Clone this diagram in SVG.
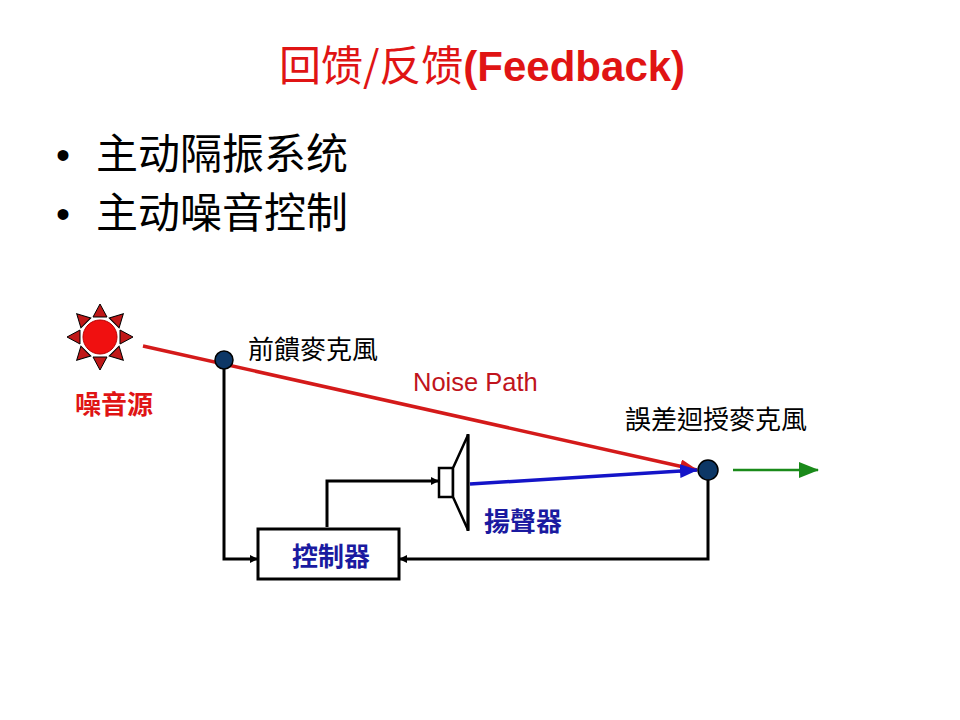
<svg xmlns="http://www.w3.org/2000/svg" width="960" height="720" viewBox="0 0 960 720">
<style>
.cjk{font-family:"Noto Sans CJK SC","Noto Sans CJK TC",sans-serif}
.lbl{font-family:"Noto Sans CJK TC","Noto Sans CJK SC",sans-serif;font-size:26px}
.wire{fill:none;stroke:#000;stroke-width:3}
.dot{fill:#0d3766;stroke:#000;stroke-width:1.5}
</style>
<defs>
<marker id="ab" markerWidth="8" markerHeight="8" refX="7" refY="4" orient="auto" markerUnits="userSpaceOnUse"><path d="M0,0 L8,4 L0,8 Z" fill="#000"/></marker>
<marker id="ar" markerWidth="18" markerHeight="14" refX="17" refY="7" orient="auto" markerUnits="userSpaceOnUse"><path d="M0,0 L18,7 L0,14 Z" fill="#d41a1a"/></marker>
<marker id="au" markerWidth="18" markerHeight="14" refX="17" refY="7" orient="auto" markerUnits="userSpaceOnUse"><path d="M0,0 L18,7 L0,14 Z" fill="#1414c8"/></marker>
<marker id="ag" markerWidth="20" markerHeight="16" refX="19" refY="8" orient="auto" markerUnits="userSpaceOnUse"><path d="M0,0 L20,8 L0,16 Z" fill="#1a8a1a"/></marker>
</defs>
<rect width="960" height="720" fill="#fff"/>
<g id="title">
<text x="482" y="81" text-anchor="middle" fill="#e01414" font-size="42"><tspan class="cjk">回馈/反馈</tspan><tspan font-family="Liberation Sans,Arial,sans-serif" font-weight="bold">(Feedback)</tspan></text>
</g>
<g id="bullets" fill="#000">
<text x="56" y="169" font-family="Liberation Sans,sans-serif" font-size="40">•</text>
<text x="96" y="169" class="cjk" font-size="42">主动隔振系统</text>
<text x="56" y="228" font-family="Liberation Sans,sans-serif" font-size="40">•</text>
<text x="96" y="228" class="cjk" font-size="42">主动噪音控制</text>
</g>
<g id="connectors">
<line x1="143" y1="346" x2="697" y2="470" stroke="#d41a1a" stroke-width="3.5" marker-end="url(#ar)"/>
<line x1="470" y1="484" x2="697" y2="470" stroke="#1414c8" stroke-width="3.5" marker-end="url(#au)"/>
<line x1="733" y1="470" x2="818" y2="470" stroke="#1a8a1a" stroke-width="2.5" marker-end="url(#ag)"/>
<polyline class="wire" points="224,369 224,559 257,559" marker-end="url(#ab)"/>
<polyline class="wire" points="708,480 708,559 400,559" marker-end="url(#ab)"/>
<polyline class="wire" points="327,527 327,481 438,481" marker-end="url(#ab)"/>
</g>
<g id="noise-source">
<g fill="#c01818" stroke="#000" stroke-width="1">
<g id="ray"><polygon points="100,304 93,317 107,317"/></g>
<use href="#ray" transform="rotate(45 100 337)"/>
<use href="#ray" transform="rotate(90 100 337)"/>
<use href="#ray" transform="rotate(135 100 337)"/>
<use href="#ray" transform="rotate(180 100 337)"/>
<use href="#ray" transform="rotate(225 100 337)"/>
<use href="#ray" transform="rotate(270 100 337)"/>
<use href="#ray" transform="rotate(315 100 337)"/>
</g>
<circle cx="100" cy="337" r="17" fill="#f01010" stroke="#b00" stroke-width="1"/>
<text x="75" y="414" class="lbl" fill="#e01414" font-weight="bold">噪音源</text>
</g>
<g id="ff-mic">
<circle cx="224" cy="360" r="9" class="dot"/>
<text x="248" y="359" class="lbl" fill="#000">前饋麥克風</text>
</g>
<g id="noise-path-label">
<text x="413" y="391" font-family="Liberation Sans,Arial,sans-serif" font-size="25.5" fill="#c0141c">Noise Path</text>
</g>
<g id="err-mic">
<circle cx="708" cy="470" r="10" class="dot"/>
<text x="625" y="429" class="lbl" fill="#000">誤差迴授麥克風</text>
</g>
<g id="speaker">
<rect x="439" y="468" width="14" height="29" fill="#fff" stroke="#000" stroke-width="2.5"/>
<polygon points="453,468 468,435 468,530 453,497" fill="#fff" stroke="#000" stroke-width="2.5"/>
<line x1="468" y1="434" x2="468" y2="531" stroke="#000" stroke-width="3"/>
<text x="484" y="531" class="lbl" fill="#1a1aa0" font-weight="bold" font-size="25">揚聲器</text>
</g>
<g id="controller">
<rect x="258" y="529" width="141" height="50" fill="#fff" stroke="#000" stroke-width="3"/>
<text x="331" y="566" text-anchor="middle" class="lbl" fill="#1a1aa0" font-weight="bold">控制器</text>
</g>
</svg>
